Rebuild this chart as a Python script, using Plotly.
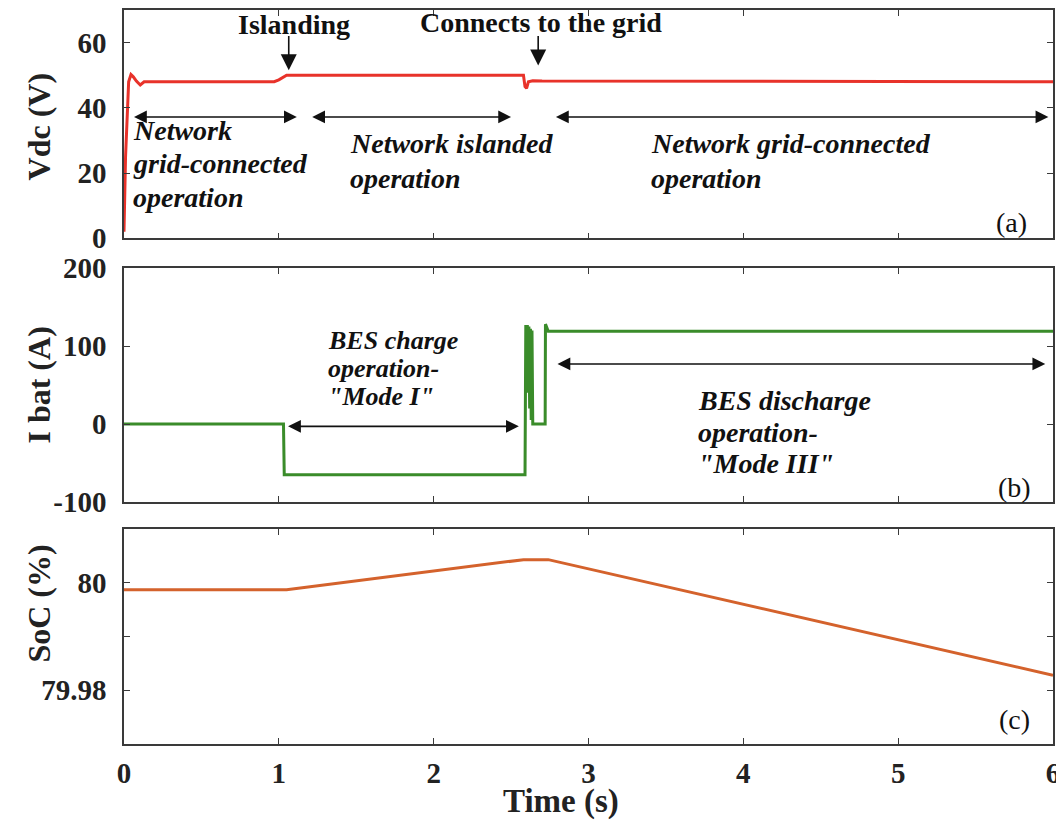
import plotly.graph_objects as go

# ---------------- data ----------------
t_vdc = [0, 0.01, 0.03, 0.045, 0.06, 0.08, 0.105, 0.13, 0.2, 0.97, 1.0, 1.05, 2.58, 2.59, 2.6, 2.612, 2.64, 2.7, 6.0]
v_vdc = [2, 25, 48, 50.2, 49.5, 48.2, 47.0, 48.0, 48.0, 48.0, 48.6, 50.0, 50.0, 46.5, 46.0, 48.0, 48.3, 48.2, 48.0]

t_ibat = [0, 1.03, 1.035, 2.59, 2.595, 2.6, 2.605, 2.61, 2.615, 2.62, 2.625, 2.63, 2.635, 2.64, 2.72, 2.722, 2.74, 6.0]
v_ibat = [0, 0, -65, -65, 127, 60, 127, 40, 125, 20, 122, 5, 120, 0, 0, 128, 119, 119]

t_soc = [0, 1.05, 2.58, 2.74, 6.0]
v_soc = [79.9987, 79.9987, 80.0043, 80.0043, 79.9828]

x_ticks = [0, 1, 2, 3, 4, 5, 6]
vdc_ticks = [0, 20, 40, 60]
ibat_ticks = [-100, 0, 100, 200]
ibat_ticktext = ["-100", "0", "100", "200"]
soc_ticks = [79.98, 79.99, 80.0]
soc_ticktext = ["79.98", "", "80"]

# ---------------- style ----------------
FONT = "Liberation Serif"
AX = "#3a3a3a"
RED = "#e8322a"
GREEN = "#3a8c2a"
ORANGE = "#d4622c"

fig = go.Figure()
fig.add_trace(go.Scatter(x=t_vdc, y=v_vdc, mode="lines", line=dict(color=RED, width=3),
                         xaxis="x", yaxis="y", showlegend=False))
fig.add_trace(go.Scatter(x=t_ibat, y=v_ibat, mode="lines", line=dict(color=GREEN, width=3),
                         xaxis="x2", yaxis="y2", showlegend=False))
fig.add_trace(go.Scatter(x=t_soc, y=v_soc, mode="lines", line=dict(color=ORANGE, width=3),
                         xaxis="x3", yaxis="y3", showlegend=False))

tickfont = dict(family=FONT, size=29, color="#222", weight="bold")


def xax(anchor, show_labels):
    return dict(anchor=anchor, range=[0, 6], tickvals=x_ticks, showticklabels=show_labels,
                ticks="inside", ticklen=6, tickcolor=AX, showline=True, linecolor=AX, linewidth=1.5,
                mirror="ticks", showgrid=False, zeroline=False, tickfont=tickfont,
                ticklabelstandoff=2, automargin=False)


def yax(anchor, domain, rng, tv, tt=None):
    d = dict(anchor=anchor, domain=domain, range=rng, tickvals=tv,
             ticks="inside", ticklen=6, tickcolor=AX, showline=True, linecolor=AX, linewidth=1.5,
             mirror="ticks", showgrid=False, zeroline=False, tickfont=tickfont,
             ticklabelstandoff=10, automargin=False)
    if tt is not None:
        d["ticktext"] = tt
    return d


# the page body adds an 8px offset, so the figure is 8px smaller on each axis
fig.update_layout(
    template="none",
    width=1056, height=812,
    margin=dict(l=116, r=11, t=2, b=76, autoexpand=False),
    paper_bgcolor="white", plot_bgcolor="white",
    xaxis=xax("y", False),
    xaxis2=xax("y2", False),
    xaxis3=xax("y3", True),
    yaxis=yax("x", [0.689, 1.0], [0, 70], vdc_ticks),
    yaxis2=yax("x2", [0.3297, 0.6485], [-100, 200], ibat_ticks, ibat_ticktext),
    yaxis3=yax("x3", [0.0, 0.2929], [79.97, 80.01], soc_ticks, soc_ticktext),
)
fig.update_layout(xaxis2=dict(matches="x"), xaxis3=dict(matches="x"))

ann = []
bi = dict(family=FONT, size=28, color="#111", weight="bold", style="italic")
bi2 = dict(family=FONT, size=26, color="#111", weight="bold", style="italic")
bold = dict(family=FONT, size=28, color="#111", weight="bold")
reg = dict(family=FONT, size=28, color="#111")


def text(x, y, s, xr, yr, font, xanchor="left"):
    ann.append(dict(x=x, y=y, xref=xr, yref=yr, text=s, showarrow=False, font=font,
                    xanchor=xanchor, yanchor="middle", borderpad=0))


def darrow(x0, x1, y, xr, yr):
    ann.append(dict(x=x1, y=y, ax=x0, ay=y, xref=xr, yref=yr, axref=xr, ayref=yr, text="",
                    showarrow=True, arrowside="end+start", arrowhead=2, arrowsize=1.6,
                    arrowwidth=1.6, arrowcolor="#111", standoff=0, startstandoff=0))


def varrow(x, y0, y1, xr, yr):
    ann.append(dict(x=x, y=y1, ax=x, ay=y0, xref=xr, yref=yr, axref=xr, ayref=yr, text="",
                    showarrow=True, arrowhead=2, arrowsize=2.0, arrowwidth=1.6,
                    arrowcolor="#111", standoff=0))


# panel (a)
text(1.10, 65.7, "Islanding", "x", "y", bold, "center")
text(2.69, 66.3, "Connects to the grid", "x", "y", bold, "center")
varrow(1.064, 62.5, 51.5, "x", "y")
varrow(2.675, 62.5, 53.0, "x", "y")
darrow(0.055, 1.116, 37.2, "x", "y")
darrow(1.206, 2.50, 37.2, "x", "y")
darrow(2.78, 5.97, 37.2, "x", "y")
text(0.05, 32.9, "Network", "x", "y", bi)
text(0.05, 23.0, "grid-connected", "x", "y", bi)
text(0.05, 12.6, "operation", "x", "y", bi)
text(1.45, 29.2, "Network islanded", "x", "y", bi)
text(1.45, 18.4, "operation", "x", "y", bi)
text(3.40, 29.2, "Network grid-connected", "x", "y", bi)
text(3.40, 18.4, "operation", "x", "y", bi)
text(5.73, 4.9, "(a)", "x", "y", reg, "center")

# panel (b)
text(1.31, 107.0, "BES charge", "x2", "y2", bi2)
text(1.31, 71.0, "operation-", "x2", "y2", bi2)
text(1.31, 35.0, "\"Mode I\"", "x2", "y2", bi2)
darrow(1.05, 2.55, -3, "x2", "y2")
darrow(2.79, 5.95, 77, "x2", "y2")
text(3.70, 29.5, "BES discharge", "x2", "y2", bi)
text(3.70, -10.3, "operation-", "x2", "y2", bi)
text(3.70, -50, "\"Mode III\"", "x2", "y2", bi)
text(5.75, -80.8, "(b)", "x2", "y2", reg, "center")

# panel (c)
text(5.75, 79.9746, "(c)", "x3", "y3", reg, "center")

# axis titles
title_font = dict(family=FONT, size=32, color="#222", weight="bold")
for ytxt, ypos in [("Vdc (V)", 0.842), ("I bat (A)", 0.489), ("SoC (%)", 0.192)]:
    ann.append(dict(x=-0.091, y=ypos, xref="paper", yref="paper", text=ytxt, showarrow=False,
                    textangle=-90, font=title_font, xanchor="center", yanchor="middle"))
ann.append(dict(x=0.47, y=-0.079, xref="paper", yref="paper", text="Time (s)", showarrow=False,
                font=dict(family=FONT, size=33, color="#222", weight="bold"),
                xanchor="center", yanchor="middle", borderpad=0))

fig.update_layout(annotations=ann)
fig.write_html("out.html")
